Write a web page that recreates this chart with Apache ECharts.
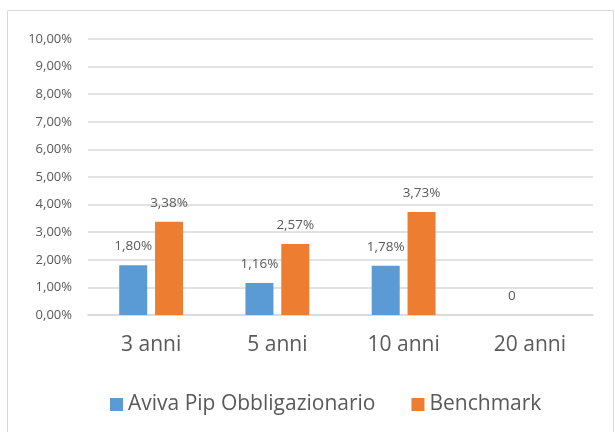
<!DOCTYPE html>
<html>
<head>
<meta charset="utf-8">
<script src="https://cdn.jsdelivr.net/npm/echarts@6/dist/echarts.min.js"></script>
<style>
  html, body { margin: 0; padding: 0; background: #fff; }
  #chart { width: 615px; height: 432px; }
</style>
</head>
<body>
<div id="chart"></div>
<script>
// data (percent)
var categories = ["3 anni", "5 anni", "10 anni", "20 anni"];
var avivaValues = [1.80, 1.16, 1.78, 0];
var benchmarkValues = [3.38, 2.57, 3.73, null];
var seriesNames = ["Aviva Pip Obbligazionario", "Benchmark"];

var textColor = "#595959";
var font = "'Open Sans', sans-serif";

function pct(v) {
    return v.toFixed(2).replace(".", ",") + "%";
}

var myChart = echarts.init(document.getElementById("chart"));

var labelOpt = {
    show: true,
    position: "top",
    distance: 12,
    color: textColor,
    fontFamily: font,
    fontSize: 13.5,
    formatter: function (p) {
        return p.value === 0 ? "0" : pct(p.value);
    }
};

myChart.setOption({
    animation: false,
    textStyle: { fontFamily: font },
    graphic: [
        {
            type: "rect",
            shape: { x: 7.5, y: 10.5, width: 606, height: 440 },
            style: { fill: "none", stroke: "#d9d9d9", lineWidth: 1 }
        }
    ],
    legend: {
        data: seriesNames,
        left: 105,
        top: 389,
        itemWidth: 13,
        itemHeight: 13,
        itemGap: 36,
        icon: "rect",
        textStyle: { color: textColor, fontSize: 21, fontFamily: font }
    },
    grid: { left: 88, right: 22, top: 39, bottom: 117 },
    xAxis: {
        type: "category",
        data: categories,
        axisLine: { lineStyle: { color: "#d9d9d9", width: 1.5 } },
        axisTick: { show: false },
        axisLabel: { color: textColor, fontSize: 21, margin: 20, fontFamily: font }
    },
    yAxis: {
        type: "value",
        min: 0,
        max: 10,
        interval: 1,
        axisLine: { show: false },
        axisTick: { show: false },
        splitLine: { lineStyle: { color: "#d9d9d9", width: 1.5 } },
        axisLabel: {
            color: textColor,
            fontSize: 13,
            margin: 16,
            fontFamily: font,
            formatter: function (v) { return pct(v); }
        }
    },
    series: [
        {
            name: seriesNames[0],
            type: "bar",
            data: avivaValues,
            barWidth: 28,
            barGap: "28%",
            itemStyle: { color: "#5b9bd5" },
            label: labelOpt
        },
        {
            name: seriesNames[1],
            type: "bar",
            data: benchmarkValues,
            barWidth: 28,
            itemStyle: { color: "#ed7d31" },
            label: labelOpt
        }
    ]
});
</script>
</body>
</html>
